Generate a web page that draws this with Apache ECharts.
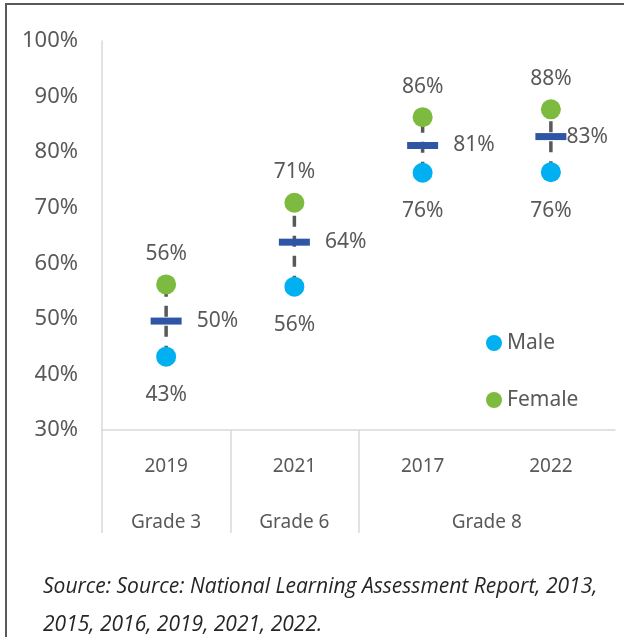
<!DOCTYPE html>
<html>
<head>
<meta charset="utf-8">
<script src="https://cdn.jsdelivr.net/npm/echarts@6/dist/echarts.min.js"></script>
<style>
    html, body { margin: 0; padding: 0; background: #fff; }
    #main { width: 624px; height: 637px; }
</style>
</head>
<body>
<div id="main"></div>
<script>
var years = ['2019', '2021', '2017', '2022'];
var grades = ['Grade 3', 'Grade 6', 'Grade 8'];
var gradeSpans = [1, 1, 2];
var male = [43.2, 55.8, 76.3, 76.4];
var female = [56.2, 70.9, 86.3, 87.7];
var average = [49.6, 63.8, 81.2, 82.8];
var yTicks = [30, 100, 10];
var sourceText = 'Source: Source: National Learning Assessment Report, 2013,\n2015, 2016, 2019, 2021, 2022.';

var font = 'Noto Sans';
var grey = '#595959';
var axisGrey = '#d9d9d9';

// where each grade starts / sits on a 0..n scale under the years
var gradeEdges = [0], gradeMids = [];
gradeSpans.forEach(function (s, i) {
    var a = gradeEdges[i];
    gradeEdges.push(a + s);
    gradeMids.push(a + s / 2);
});

function pct(p) {
    var v = Array.isArray(p.value) ? p.value[1] : p.value;
    return Math.round(v) + '%';
}

var chart = echarts.init(document.getElementById('main'));
var option = {
    animation: false,
    textStyle: { fontFamily: font },
    title: {
        text: sourceText,
        left: 38,
        top: 563,
        textStyle: { fontFamily: 'Open Sans', fontStyle: 'italic', fontWeight: 'normal', fontSize: 21, lineHeight: 38, color: '#262626' }
    },
    legend: {
        data: ['Male', 'Female'],
        orient: 'vertical',
        left: 481,
        top: 326,
        icon: 'circle',
        itemWidth: 16,
        itemHeight: 16,
        itemGap: 33,
        textStyle: { fontSize: 21, lineHeight: 24, color: grey, fontFamily: font }
    },
    grid: { left: 102, right: 9, top: 41, bottom: 207 },
    xAxis: [
        {
            type: 'category',
            data: years,
            axisLine: { lineStyle: { color: axisGrey, width: 1.5 } },
            axisTick: { show: false },
            axisLabel: { margin: 27, fontSize: 19, color: grey, fontFamily: font }
        },
        {
            type: 'value',
            min: 0,
            max: years.length,
            position: 'bottom',
            axisLine: { show: false },
            splitLine: { show: false },
            axisTick: {
                show: true,
                customValues: gradeEdges.slice(0, -1),
                length: 103,
                lineStyle: { color: axisGrey, width: 1.5 }
            },
            axisLabel: {
                customValues: gradeMids,
                formatter: function (v) { return grades[gradeMids.indexOf(v)]; },
                margin: 83,
                fontSize: 19,
                color: grey,
                fontFamily: font
            }
        }
    ],
    yAxis: {
        type: 'value',
        min: yTicks[0],
        max: yTicks[1],
        interval: yTicks[2],
        axisLine: { show: true, lineStyle: { color: axisGrey, width: 1.5 } },
        axisTick: { show: false },
        splitLine: { show: false },
        axisLabel: { formatter: '{value}%', margin: 24, fontSize: 22, color: grey, fontFamily: font }
    },
    series: [
        {
            type: 'custom',
            name: 'range',
            silent: true,
            z: 1,
            data: years.map(function (y, i) { return [i, male[i], female[i]]; }),
            encode: { x: 0, y: [1, 2] },
            renderItem: function (params, api) {
                var a = api.coord([api.value(0), api.value(1)]);
                var b = api.coord([api.value(0), api.value(2)]);
                return {
                    type: 'line',
                    shape: { x1: a[0], y1: a[1], x2: b[0], y2: b[1] },
                    style: { stroke: grey, lineWidth: 3.5, lineDash: [11, 9] }
                };
            }
        },
        {
            type: 'scatter',
            name: 'Average',
            z: 2,
            symbol: 'rect',
            symbolSize: [31, 7],
            itemStyle: { color: '#2F55A5', opacity: 1 },
            data: average.map(function (v, i) {
                return i === average.length - 1 ? { value: v, label: { distance: 0 } } : v;
            }),
            label: { show: true, position: 'right', distance: 15, formatter: pct, fontSize: 21, color: grey, fontFamily: font }
        },
        {
            type: 'scatter',
            name: 'Male',
            z: 3,
            symbolSize: 20,
            itemStyle: { color: '#00B0F0', opacity: 1 },
            data: male,
            label: { show: true, position: 'bottom', distance: 18, formatter: pct, fontSize: 21, color: grey, fontFamily: font }
        },
        {
            type: 'scatter',
            name: 'Female',
            z: 3,
            symbolSize: 20,
            itemStyle: { color: '#7CBB40', opacity: 1 },
            data: female,
            label: { show: true, position: 'top', distance: 10, formatter: pct, fontSize: 21, color: grey, fontFamily: font }
        }
    ],
    graphic: [
        {
            type: 'rect',
            silent: true,
            shape: { x: 6, y: 4, width: 700, height: 700 },
            style: { fill: null, stroke: '#595959', lineWidth: 2 }
        }
    ]
};
chart.setOption(option);
</script>
</body>
</html>
